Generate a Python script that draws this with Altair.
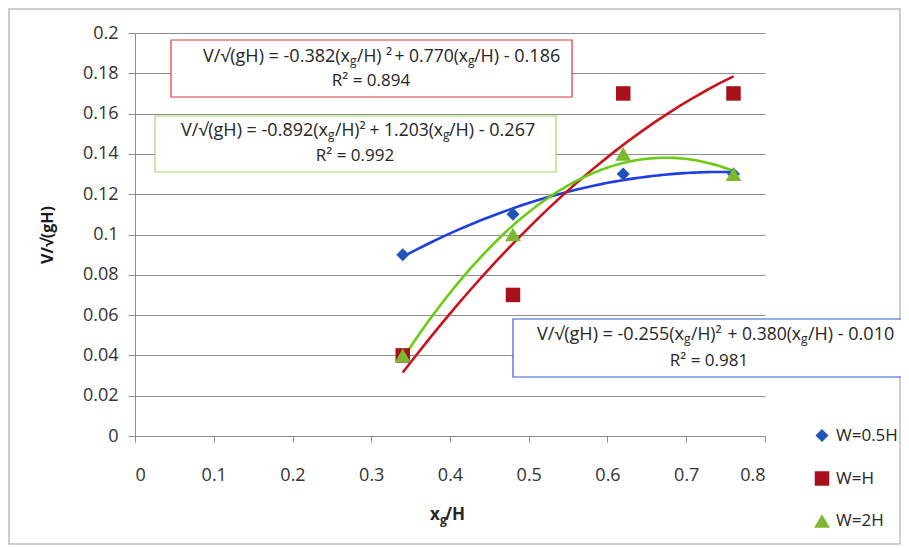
import altair as alt
import pandas as pd

# ---- data ----
x_vals = [0.34, 0.48, 0.62, 0.76]
w05h = [0.09, 0.11, 0.13, 0.13]
wh = [0.04, 0.07, 0.17, 0.17]
w2h = [0.04, 0.10, 0.14, 0.13]
series_names = ["W=0.5H", "W=H", "W=2H"]

marker_colors = ["#1F55B4", "#A8111A", "#7DB92E"]
line_colors = ["#1E3FE0", "#C8141E", "#6CCB13"]
shapes = ["diamond", "square", "triangle-up"]
sizes = [170, 250, 200]

# equation annotation text (split where the subscript g sits)
eq_a = ["V/√(gH) = -0.382(x", "V/√(gH)  = -0.892(x", "V/√(gH)  = -0.255(x"]
eq_b = ["/H) ²", "/H)²", "/H)²"]
eq_c = [" + 0.770(x", " + 1.203(x", " + 0.380(x"]
eq_d = ["/H) - 0.186", "/H) - 0.267", "/H) - 0.010"]
eq_r2 = ["R² = 0.894", "R² = 0.992", "R² = 0.981"]
box_colors = ["#E0343A", "#A3D96A", "#3558E0"]

# annotation layout in screen pixels (measured on the reference)
box_px_x1 = [171, 155, 513]
box_px_x2 = [572, 556, 905]
box_px_y1 = [40, 116, 319]
box_px_y2 = [97, 172, 377]
g1_px = [350, 328, 684]
slash1_px = [357, 335, 691]
g2_px = [468, 443, 801]
slash2_px = [474, 449, 808]
line1_py = [57, 131, 335]
line2_py = [81, 156, 361]
line2_px = [371, 355, 709]

X0, Y0, W, H = 135, 33, 630, 403


def px2x(px):
    return (px - X0) / W * 0.8


def py2y(py):
    return (Y0 + H - py) / H * 0.2


rows = []
for name, ys in zip(series_names, [w05h, wh, w2h]):
    for x, y in zip(x_vals, ys):
        rows.append({"series": name, "x": x, "y": y})
df = pd.DataFrame(rows)

boxes = pd.DataFrame({
    "x1": [px2x(v) for v in box_px_x1], "x2": [px2x(v) for v in box_px_x2],
    "y1": [py2y(v) for v in box_px_y1], "y2": [py2y(v) for v in box_px_y2],
    "color": box_colors,
})

segs = []
for i in range(3):
    yl = py2y(line1_py[i])
    segs.append({"x": px2x(g1_px[i]), "y": yl, "t": eq_a[i], "align": "right", "kind": "outer"})
    segs.append({"x": px2x(g1_px[i]), "y": yl, "t": "g", "align": "left", "kind": "sub"})
    segs.append({"x": px2x(slash1_px[i]), "y": yl, "t": eq_b[i], "align": "left", "kind": "inner"})
    segs.append({"x": px2x(g2_px[i]), "y": yl, "t": eq_c[i], "align": "right", "kind": "inner"})
    segs.append({"x": px2x(g2_px[i]), "y": yl, "t": "g", "align": "left", "kind": "sub"})
    segs.append({"x": px2x(slash2_px[i]), "y": yl, "t": eq_d[i], "align": "left", "kind": "outer"})
    segs.append({"x": px2x(line2_px[i]), "y": py2y(line2_py[i]), "t": eq_r2[i], "align": "center", "kind": "r2"})
segs = pd.DataFrame(segs)

xtitle = pd.DataFrame({
    "x": [px2x(430), px2x(440), px2x(445)],
    "y": [py2y(515)] * 3,
    "t": ["x", "g", "/H"],
    "align": ["left", "left", "left"],
    "kind": ["tmain", "tsub", "tmain"],
})

FONT = "Open Sans"

xscale = alt.Scale(domain=[0, 0.8], nice=False, zero=False)
yscale = alt.Scale(domain=[0, 0.2], nice=False, zero=False)

xaxis = alt.Axis(
    values=[0, 0.1, 0.2, 0.3, 0.4, 0.5, 0.6, 0.7, 0.8], format="~g",
    title=None, grid=False, tickSize=6, labelPadding=24,
)
yaxis = alt.Axis(
    values=[round(i * 0.02, 2) for i in range(11)], format="~g",
    title="V/√(gH)", grid=True, tickSize=7, labelPadding=10,
    titleX=-88, titleY=H / 2, titleBaseline="middle", titleAlign="center",
)

frame = alt.Chart(pd.DataFrame({"a": [0]})).mark_rect(
    fill=None, stroke="#BFBFBF", strokeWidth=1.5, clip=False
).encode(
    x=alt.value(-126), x2=alt.value(765), y=alt.value(-24), y2=alt.value(511)
)

points = alt.Chart(df).mark_point(filled=True, opacity=1).encode(
    x=alt.X("x:Q", scale=xscale, axis=xaxis),
    y=alt.Y("y:Q", scale=yscale, axis=yaxis),
    color=alt.Color("series:N", scale=alt.Scale(domain=series_names, range=marker_colors),
                    legend=alt.Legend(title=None)),
    shape=alt.Shape("series:N", scale=alt.Scale(domain=series_names, range=shapes),
                    legend=alt.Legend(title=None)),
    size=alt.Size("series:N", scale=alt.Scale(domain=series_names, range=sizes), legend=None),
)

lines = alt.Chart(df).transform_regression(
    "x", "y", groupby=["series"], method="poly", order=2
).mark_line(strokeWidth=2.6).encode(
    x=alt.X("x:Q", scale=xscale),
    y=alt.Y("y:Q", scale=yscale),
    stroke=alt.Stroke("series:N", scale=alt.Scale(domain=series_names, range=line_colors), legend=None),
)

rects = alt.Chart(boxes).mark_rect(fill="white", strokeWidth=1.2, clip=False).encode(
    x=alt.X("x1:Q", scale=xscale), x2="x2:Q",
    y=alt.Y("y1:Q", scale=yscale), y2="y2:Q",
    stroke=alt.Stroke("color:N", scale=None),
)

STYLE = {
    "outer": dict(fontSize=18, dy=0, fontWeight="normal"),
    "inner": dict(fontSize=17.5, dy=0, fontWeight="normal"),
    "sub": dict(fontSize=12, dy=4, fontWeight="normal"),
    "r2": dict(fontSize=17, dy=0, fontWeight="normal"),
    "tmain": dict(fontSize=17, dy=0, fontWeight="bold"),
    "tsub": dict(fontSize=12, dy=5, fontWeight="bold"),
}


def seg_layer(data, align, kind):
    d = data[(data["kind"] == kind) & (data["align"] == align)]
    return alt.Chart(d).mark_text(
        font=FONT, color="#262626", align=align, baseline="middle", clip=False,
        **STYLE[kind],
    ).encode(
        x=alt.X("x:Q", scale=xscale), y=alt.Y("y:Q", scale=yscale), text="t:N"
    )


texts = [
    seg_layer(segs, "right", "outer"),
    seg_layer(segs, "left", "outer"),
    seg_layer(segs, "right", "inner"),
    seg_layer(segs, "left", "inner"),
    seg_layer(segs, "center", "r2"),
    seg_layer(segs, "left", "sub"),
    seg_layer(xtitle, "left", "tmain"),
    seg_layer(xtitle, "left", "tsub"),
]

chart = alt.layer(frame, lines, points, rects, *texts).resolve_scale(
    stroke="independent"
).properties(
    width=W, height=H,
    autosize=alt.AutoSizeParams(type="none"),
    padding={"left": 127, "top": 25, "right": 136, "bottom": 109},
).configure_view(stroke=None).configure_axis(
    labelFont=FONT, titleFont=FONT, labelFontSize=18, titleFontSize=16,
    labelColor="#333333", titleColor="#1a1a1a", titleFontWeight="bold",
    domainColor="#8C8C8C", tickColor="#8C8C8C", gridColor="#8C8C8C",
).configure_legend(
    orient="none", legendX=678, legendY=394, labelFont=FONT, labelFontSize=17,
    labelColor="#262626", rowPadding=25, symbolSize=130, labelOffset=5,
)

chart.save("out.html", embed_options={"renderer": "svg", "actions": False})
